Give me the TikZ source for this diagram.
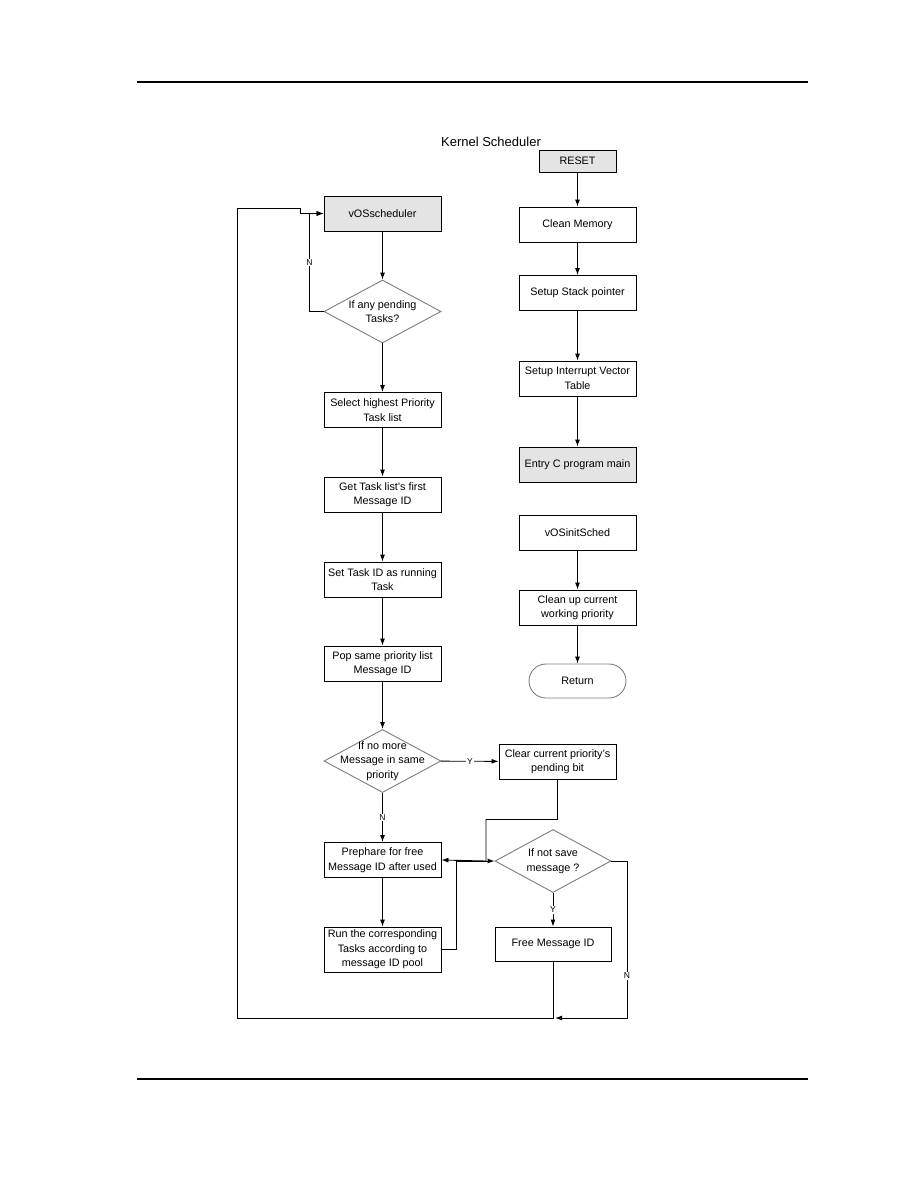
\documentclass[tikz,border=0pt]{standalone}
\usepackage{fontspec}
\setmainfont{Liberation Sans}
\usetikzlibrary{shapes.geometric,arrows.meta}

\begin{document}
\begin{tikzpicture}[x=1pt,y=-1pt]

% === Colors ===
\definecolor{boxgray}{RGB}{228,228,228}
\definecolor{edgegray}{RGB}{125,125,125}

\tikzset{
  box/.style={draw, line width=0.9pt, minimum width=117pt, minimum height=35pt,
    inner sep=1pt, align=center, font=\fontsize{10.8}{14.5}\selectfont},
  entrybox/.style={box, fill=boxgray},
  decision/.style={diamond, draw=edgegray, line width=0.9pt,
    minimum width=117pt, minimum height=63pt, inner sep=0pt},
  dtext/.style={align=center, inner sep=0pt, font=\fontsize{10.8}{14.5}\selectfont},
  endbox/.style={box, draw=edgegray, rounded corners=17pt, minimum width=97pt, minimum height=34pt},
  arr/.style={-{Latex[length=7pt,width=5pt]}, line width=0.9pt},
  flag/.style={font=\fontsize{8.5}{9}\selectfont, fill=white, inner sep=1pt},
}

\useasboundingbox (0,0) rectangle (918,1188);

% === Page rules ===
\draw[line width=1.6pt] (137,82) -- (808,82);
\draw[line width=1.6pt] (137,1079) -- (808,1079);

% === Title ===
\node[font=\fontsize{13}{15}\selectfont] (title) at (491,142) {Kernel Scheduler};

% === Startup column ===
\node[entrybox, minimum width=77pt, minimum height=22pt] (reset) at (577.5,161) {RESET};
\node[box] (clean) at (577.5,224.5) {Clean Memory};
\node[box] (stack) at (577.5,293) {Setup Stack pointer};
\node[box] (ivt) at (577.5,378.5) {Setup Interrupt Vector\\Table};
\node[entrybox] (entry) at (577.5,464.5) {Entry C program main};
\node[box] (init) at (577.5,533) {vOSinitSched};
\node[box] (cleanup) at (577.5,607.5) {Clean up current\\working priority};
\node[endbox] (ret) at (577.5,681) {Return};

\draw[arr] (reset) -- (clean);
\draw[arr] (clean) -- (stack);
\draw[arr] (stack) -- (ivt);
\draw[arr] (ivt) -- (entry);
\draw[arr] (init) -- (cleanup);
\draw[arr] (cleanup) -- (ret);

% === Scheduler column ===
\node[entrybox] (vos) at (382.5,213.5) {vOSscheduler};
\node[decision] (pend) at (382.5,311.5) {};
\node[dtext] (pendtext) at (pend) {If any pending\\Tasks?};
\node[box] (sel) at (382.5,410) {Select highest Priority\\Task list};
\node[box] (get) at (382.5,494.5) {Get Task list's first\\Message ID};
\node[box] (setid) at (382.5,579.5) {Set Task ID as running\\Task};
\node[box] (pop) at (382.5,663.5) {Pop same priority list\\Message ID};
\node[decision] (more) at (382.5,761) {};
\node[dtext] (moretext) at (more) {If no more\\Message in same\\priority};
\node[box] (clear) at (557.5,761.5) {Clear current priority's\\pending bit};
\node[box] (prep) at (382.5,860) {Prephare for free\\Message ID after used};
\node[box, minimum height=45pt] (run) at (382.5,949.5) {Run the corresponding\\Tasks according to\\message ID pool};
\node[decision, minimum width=116pt] (save) at (553,861) {};
\node[dtext] (savetext) at (save) {If not save\\message ?};
\node[box, minimum width=116pt, minimum height=34pt] (free) at (553,944) {Free Message ID};

\coordinate (loopjoin) at (553,1018);

\draw[arr] (vos) -- (pend);
\draw[arr] (pend.west) -- ++(-14,0) |- node[flag, pos=0.25] {N} (vos.west);
\draw[arr] (pend) -- (sel);
\draw[arr] (sel) -- (get);
\draw[arr] (get) -- (setid);
\draw[arr] (setid) -- (pop);
\draw[arr] (pop) -- (more);
\draw[arr] (more) -- node[flag] {Y} (clear);
\draw[arr] (more) -- node[flag] {N} (prep);
\draw[arr] (prep) -- (run);
\draw[arr] (clear.south) -- ++(0,40) -| (486,861) -- (prep.east);
\draw[arr] (run.east) -- (456,949.5) -- (456,861) -- (save.west);
\draw[arr] (save) -- node[flag] {Y} (free);
\draw[arr] (save.east) -- (627,861) -- node[flag, pos=0.73] {N} (627,1018) -- ([xshift=2pt]loopjoin);
\draw[arr] (free) -- (loopjoin) -- (237,1018) -- (237,208) -- (300,208) -- (300,213.5) -- (vos.west);

\end{tikzpicture}
\end{document}
